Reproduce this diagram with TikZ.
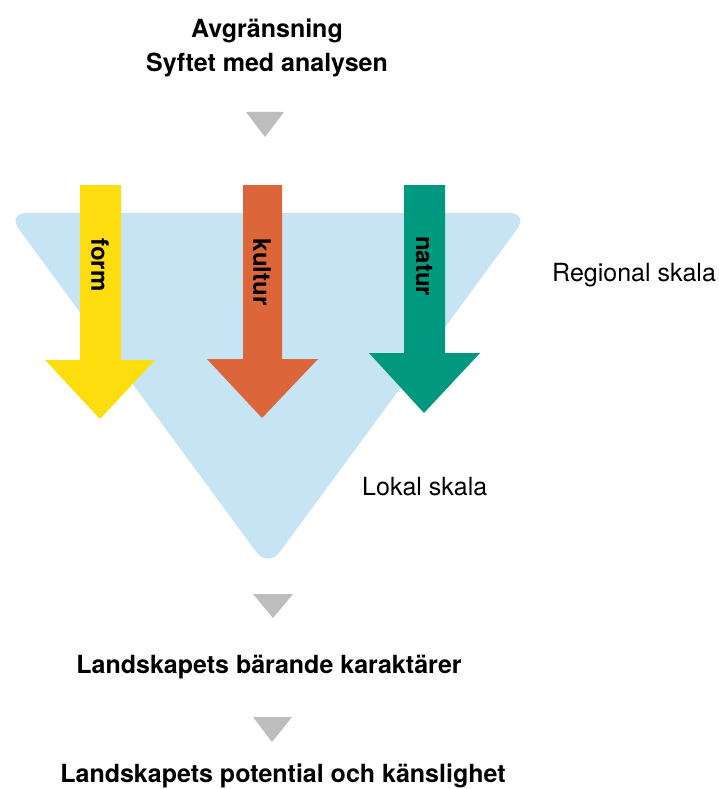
\documentclass[tikz,border=0pt]{standalone}
\usepackage{fontspec}
\setmainfont{TeX Gyre Heros}
\definecolor{lblue}{HTML}{C6E4F3}
\definecolor{ayellow}{HTML}{FEDD0E}
\definecolor{aorange}{HTML}{DC653A}
\definecolor{agreen}{HTML}{00997F}
\definecolor{agray}{HTML}{BDBDBD}
\begin{document}
\begin{tikzpicture}[x=1pt,y=-1pt,
  head/.style={font=\fontsize{25}{30}\selectfont\bfseries, anchor=base, inner sep=0pt},
  plain/.style={font=\fontsize{25}{30}\selectfont, anchor=base west, inner sep=0pt},
  arrowlbl/.style={font=\fontsize{24}{28}\selectfont\bfseries, rotate=-90, inner sep=0pt},
  tri/.style={fill=agray}]
\useasboundingbox (0,0) rectangle (718,789);
% big light-blue funnel
\fill[lblue, rounded corners=20pt] (7,213) -- (529,213) -- (268,568) -- cycle;
% coloured arrows
\fill[ayellow] (80,185) -- (121,185) -- (121,360) -- (155,360) -- (100,419) -- (45,360) -- (80,360) -- cycle;
\fill[aorange] (243,185) -- (282,185) -- (282,359) -- (318,359) -- (262,418) -- (207,359) -- (243,359) -- cycle;
\fill[agreen] (404,185) -- (445,185) -- (445,353) -- (480,353) -- (424,413) -- (369,353) -- (404,353) -- cycle;
\node[arrowlbl] (form) at (100,265) {form};
\node[arrowlbl] (kultur) at (262,272) {kultur};
\node[arrowlbl] (natur) at (424,266) {natur};
% texts
\node[head] (avg) at (267,38) {Avgränsning};
\node[head] (syf) at (267,72) {Syftet med analysen};
\node[plain] (reg) at (552,281) {Regional skala};
\node[plain] (lok) at (362,495) {Lokal skala};
\node[head] (bar) at (269,673) {Landskapets bärande karaktärer};
\node[head] (pot) at (283,782) {Landskapets potential och känslighet};
% grey triangles
\fill[tri] (246,112) -- (284,112) -- (265,137) -- cycle;
\fill[tri] (253,594) -- (293,594) -- (273,618) -- cycle;
\fill[tri] (253,717) -- (292,717) -- (272,742) -- cycle;
\end{tikzpicture}
\end{document}
